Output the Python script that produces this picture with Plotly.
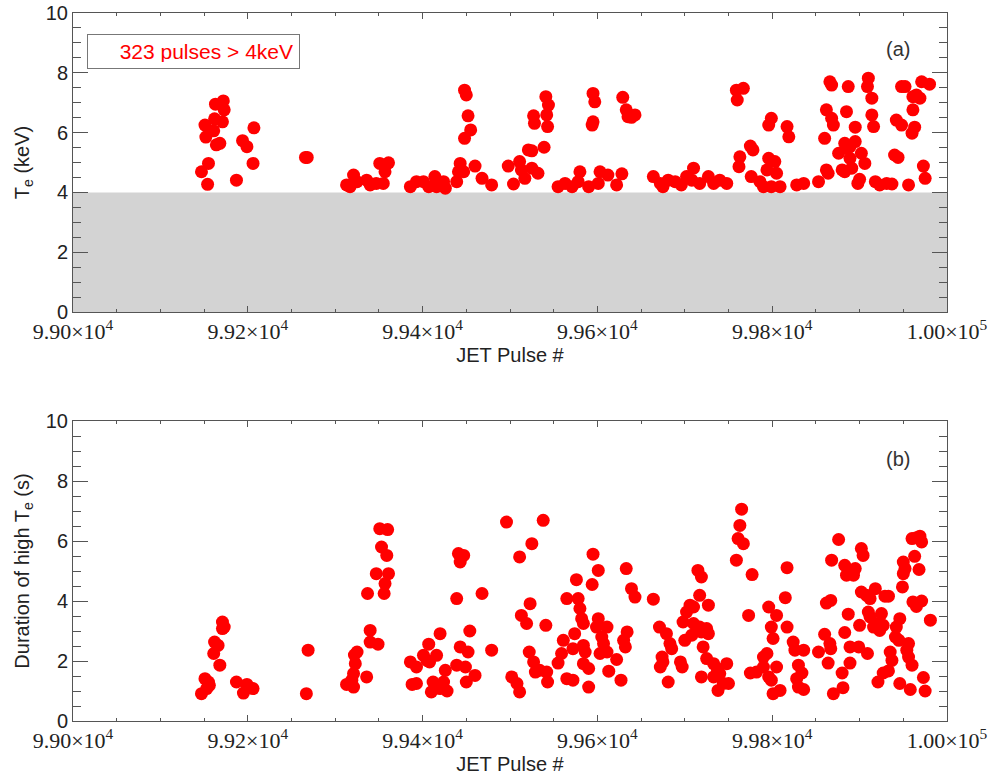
import plotly.graph_objects as go

# ---------------- data ----------------
pulse_a = [99147, 99154, 99155, 99152, 99151, 99161, 99162, 99164, 99168, 99163, 99172, 99173, 99171,
           99187, 99194, 99199, 99206, 99207, 99266, 99268,
           99313, 99321, 99325, 99317, 99336, 99340, 99351, 99361, 99357, 99355, 99347,
           99386, 99393, 99401, 99407, 99414, 99416, 99424, 99426, 99439, 99441, 99443, 99447,
           99448, 99455, 99452, 99448, 99450, 99460, 99468, 99479,
           99498, 99504, 99511, 99513, 99517, 99521, 99525, 99525, 99532, 99527, 99528,
           99541, 99544, 99542, 99543, 99539, 99555, 99563, 99571, 99580, 99578, 99590,
           99595, 99597, 99595, 99594, 99603, 99601, 99612, 99622, 99628,
           99629, 99633, 99639, 99643, 99635, 99664, 99672, 99675, 99681, 99689, 99696,
           99702, 99710, 99708, 99717, 99727, 99733, 99740, 99748,
           99759, 99767, 99760, 99763, 99762, 99775, 99778, 99776, 99786, 99790,
           99796, 99803, 99794, 99799, 99796, 99805, 99799, 99809, 99817, 99819,
           99828, 99836, 99853, 99862, 99864, 99860, 99862, 99868, 99870, 99866, 99868,
           99876, 99880, 99883, 99883, 99889, 99895, 99885, 99887, 99885, 99889, 99891, 99895,
           99902, 99906, 99898, 99900, 99910, 99909, 99914, 99914, 99916,
           99918, 99923, 99931, 99937, 99940, 99944, 99942, 99948, 99948, 99952, 99956,
           99960, 99963, 99961, 99961, 99965, 99969, 99971, 99980, 99973, 99975]
te_a = [4.69, 4.27, 4.97, 5.85, 6.25, 6.06, 6.46, 5.59, 5.64, 6.95, 7.06, 6.76, 6.36,
        4.41, 5.73, 5.53, 4.97, 6.16, 5.17, 5.17,
        4.25, 4.58, 4.36, 4.19, 4.41, 4.25, 4.97, 4.99, 4.69, 4.30, 4.30,
        4.19, 4.36, 4.36, 4.19, 4.53, 4.19, 4.36, 4.14, 4.36, 4.69, 4.97, 4.69,
        5.81, 6.09, 6.56, 7.42, 7.26, 4.88, 4.47, 4.25,
        4.88, 4.28, 5.03, 4.75, 4.47, 5.42, 5.39, 4.81, 4.64, 6.56, 6.31,
        7.20, 6.92, 6.59, 6.20, 5.51, 4.19, 4.30, 4.19, 4.69, 4.36, 4.19,
        7.31, 7.03, 6.36, 6.25, 4.69, 4.30, 4.58, 4.25, 4.62,
        7.18, 6.76, 6.51, 6.59, 6.53, 4.53, 4.30, 4.19, 4.41, 4.36, 4.25,
        4.53, 4.81, 4.41, 4.30, 4.53, 4.30, 4.41, 4.30,
        7.42, 7.48, 7.09, 5.19, 4.86, 5.55, 5.42, 4.53, 4.36, 4.19,
        5.14, 5.03, 4.75, 6.48, 6.25, 4.64, 4.19, 4.19, 6.20, 5.86,
        4.25, 4.30, 4.36, 4.75, 4.64, 5.81, 6.76, 6.48, 6.25, 7.70, 7.59,
        5.31, 4.75, 4.69, 5.64, 5.53, 5.70, 5.48, 7.54, 6.70, 5.14, 4.81, 6.18,
        5.31, 4.97, 4.30, 4.44, 7.82, 7.54, 7.15, 6.59, 6.20,
        4.36, 4.25, 4.30, 4.28, 5.25, 5.17, 6.42, 6.25, 7.54, 7.54, 4.25,
        5.98, 6.18, 6.76, 7.20, 7.26, 7.15, 7.70, 7.62, 4.88, 4.47]

pulse_b = [99147, 99153, 99155, 99151, 99156, 99161, 99162, 99166, 99168, 99171, 99173, 99171,
           99187, 99195, 99199, 99206, 99267, 99269,
           99313, 99321, 99319, 99321, 99323, 99325, 99322, 99336, 99337, 99340, 99340, 99349,
           99347, 99351, 99360, 99353, 99359, 99361, 99357, 99356,
           99386, 99393, 99388, 99393, 99401, 99405, 99408, 99416, 99407, 99420, 99412, 99410,
           99424, 99428, 99420, 99426, 99439, 99441, 99447, 99443, 99443, 99452, 99439, 99449,
           99450, 99460, 99454, 99468, 99479, 99496,
           99502, 99508, 99511, 99511, 99525, 99538, 99513, 99519, 99523, 99522, 99527, 99529,
           99534, 99542, 99543, 99541, 99555, 99561, 99559, 99565, 99565, 99572, 99574, 99576,
           99578, 99580, 99582, 99584, 99572, 99584, 99586, 99584, 99590, 99590, 99594, 99595,
           99601, 99601, 99599, 99605, 99607, 99611, 99603, 99611, 99613, 99622, 99627, 99630,
           99632, 99634, 99633, 99639, 99643, 99664, 99671, 99679, 99683, 99685, 99674, 99672,
           99675, 99681, 99695, 99697, 99698, 99702, 99706, 99710, 99700, 99708, 99715, 99719,
           99717, 99710, 99717, 99727, 99719, 99725, 99727, 99721, 99725, 99733, 99737, 99719,
           99733, 99740, 99738, 99744, 99750, 99748, 99759, 99761, 99763, 99767, 99765, 99777,
           99773, 99775, 99782, 99790, 99794, 99790, 99796, 99796, 99805, 99799, 99801, 99805,
           99799, 99801, 99809, 99817, 99815, 99817, 99824, 99826, 99830, 99828, 99830,
           99836, 99834, 99836, 99853, 99860, 99866, 99867, 99864, 99862, 99867, 99868, 99876,
           99870, 99880, 99881, 99883, 99885, 99893, 99895, 99887, 99883, 99889, 99899, 99889,
           99902, 99904, 99902, 99908, 99912, 99918, 99900, 99909, 99910, 99916, 99912, 99920,
           99923, 99927, 99925, 99929, 99933, 99935, 99937, 99927, 99933, 99921, 99942, 99946,
           99941, 99945, 99949, 99946, 99950, 99952, 99950, 99956, 99954, 99956, 99960, 99958,
           99960, 99965, 99969, 99971, 99963, 99968, 99961, 99965, 99971, 99973, 99975, 99981]
dur_b = [0.91, 1.08, 1.30, 1.41, 1.19, 2.25, 2.63, 2.52, 1.86, 3.30, 3.13, 3.08,
         1.30, 0.93, 1.22, 1.08, 0.91, 2.36,
         1.22, 1.13, 1.36, 1.58, 1.91, 2.30, 2.20, 1.47, 4.25, 3.02, 2.63, 2.56,
         4.91, 6.41, 6.38, 5.80, 5.52, 4.91, 4.58, 4.25,
         1.97, 1.80, 1.22, 1.25, 2.19, 2.02, 1.97, 2.19, 2.56, 2.91, 1.30, 0.97,
         1.30, 1.00, 1.08, 1.69, 4.08, 5.58, 5.52, 5.30, 2.47, 2.30, 1.86, 1.80,
         1.30, 1.52, 3.00, 4.25, 2.36, 6.63,
         1.47, 1.25, 0.97, 5.47, 5.91, 6.69, 3.52, 3.25, 3.91, 2.30, 1.97, 1.63,
         1.69, 1.63, 1.30, 3.19, 1.93, 2.69, 2.25, 4.08, 1.41, 1.36, 2.91, 4.71,
         4.08, 3.75, 3.41, 3.25, 2.41, 2.52, 2.30, 1.91, 1.75, 1.13, 4.55, 5.56,
         5.02, 3.41, 3.13, 2.80, 2.58, 3.13, 2.25, 2.30, 1.66, 2.05, 1.36, 2.69,
         2.47, 2.97, 5.08, 4.41, 4.13, 4.06, 3.13, 2.91, 2.58, 2.41, 2.13, 1.80,
         1.97, 1.30, 1.97, 1.80, 3.30, 3.63, 3.86, 3.80, 2.69, 2.86, 5.02, 4.80,
         4.19, 3.25, 3.13, 3.86, 2.97, 3.08, 2.91, 2.47, 2.08, 1.91, 1.75, 1.47,
         1.47, 1.58, 1.02, 1.25, 1.25, 1.91, 5.36, 6.08, 6.52, 5.91, 7.06, 4.88,
         3.52, 1.60, 1.63, 2.13, 2.25, 1.80, 1.47, 3.80, 3.52, 3.13, 2.75, 1.80,
         1.36, 0.91, 1.02, 5.11, 4.11, 3.13, 2.63, 2.36, 1.86, 1.41, 1.13,
         2.36, 1.60, 1.05, 2.30, 2.89, 2.58, 2.41, 1.93, 3.93, 4.02, 5.36, 6.05,
         0.91, 1.60, 1.11, 5.19, 4.86, 4.86, 5.08, 3.56, 2.95, 2.47, 2.47, 1.93,
         5.75, 5.52, 4.30, 4.19, 4.08, 4.41, 3.19, 2.25, 3.63, 3.13, 3.47, 3.25,
         3.02, 3.19, 3.58, 4.16, 4.16, 2.30, 2.02, 1.60, 1.67, 1.30, 3.13, 3.41,
         2.80, 2.69, 4.47, 1.25, 5.30, 5.08, 4.91, 2.58, 2.36, 2.13, 1.86, 1.05,
         6.08, 6.11, 6.16, 5.97, 5.49, 5.05, 3.97, 3.82, 4.00, 1.45, 1.00, 3.36]

x_range = [99000, 100000]
x_tick_vals = [99000, 99200, 99400, 99600, 99800, 100000]
x_tick_text = ["9.90×10<sup>4</sup>", "9.92×10<sup>4</sup>", "9.94×10<sup>4</sup>",
               "9.96×10<sup>4</sup>", "9.98×10<sup>4</sup>", "1.00×10<sup>5</sup>"]
y_range = [0, 10]
te_threshold = 4
legend_text = "323 pulses > 4keV"

# ---------------- figure ----------------
RED = "#ff0000"
AXC = "#555555"
SANS = "Liberation Sans"

fig = go.Figure()
fig.add_trace(go.Scatter(x=pulse_a, y=te_a, mode="markers", xaxis="x", yaxis="y",
                         marker=dict(color=RED, size=13, line=dict(width=0)), showlegend=False))
fig.add_trace(go.Scatter(x=pulse_b, y=dur_b, mode="markers", xaxis="x2", yaxis="y2",
                         marker=dict(color=RED, size=13, line=dict(width=0)), showlegend=False))

fig.add_shape(type="rect", xref="x", yref="y", x0=x_range[0], x1=x_range[1], y0=0, y1=te_threshold,
              fillcolor="#d3d3d3", line=dict(width=0), layer="below")

def xaxis(anchor):
    return dict(range=x_range, anchor=anchor, tickmode="array", tickvals=x_tick_vals, ticktext=x_tick_text,
                ticks="inside", ticklen=6, tickwidth=1, tickcolor=AXC,
                minor=dict(ticks="inside", ticklen=3, dtick=50, tick0=99000, tickcolor=AXC),
                showline=True, linecolor=AXC, linewidth=1, mirror="ticks",
                showgrid=False, zeroline=False, automargin=False,
                tickfont=dict(family="Liberation Serif", size=22, color="#222"),
                title=dict(text="JET Pulse #", font=dict(family=SANS, size=20, color="#222"),
                           standoff=4))

def yaxis(anchor, domain, title):
    return dict(range=y_range, anchor=anchor, domain=domain, tickvals=[0, 2, 4, 6, 8, 10],
                ticks="inside", ticklen=15, tickwidth=1, tickcolor=AXC,
                minor=dict(ticks="inside", ticklen=8, dtick=0.5, tickcolor=AXC),
                showline=True, linecolor=AXC, linewidth=1, mirror="ticks",
                showgrid=False, zeroline=False, automargin=False,
                tickfont=dict(family=SANS, size=20, color="#222"),
                title=dict(text=title, font=dict(family=SANS, size=20, color="#222"),
                           standoff=10))

fig.update_layout(
    width=990, height=778,
    margin=dict(l=73, r=43, t=13, b=57),
    paper_bgcolor="white", plot_bgcolor="white",
    xaxis=xaxis("y"),
    yaxis=yaxis("x", [0.5777, 1.0], "T<sub>e</sub> (keV)"),
    xaxis2=xaxis("y2"),
    yaxis2=yaxis("x2", [0.0, 0.4237], "Duration of high T<sub>e</sub> (s)"),
)

fig.add_annotation(xref="paper", yref="paper", x=(87 - 73) / 874, y=1 - (34 - 13) / 708,
                   xanchor="left", yanchor="top", text=legend_text, showarrow=False,
                   font=dict(family=SANS, size=21, color=RED),
                   width=199, height=21, align="right", valign="middle",
                   bordercolor="#777", borderwidth=1, borderpad=6, bgcolor="white")
fig.add_annotation(xref="paper", yref="paper", x=(912 - 73) / 874, y=1 - (49 - 13) / 708,
                   xanchor="right", yanchor="middle", text="(a)", showarrow=False,
                   font=dict(family=SANS, size=20, color="#333"))
fig.add_annotation(xref="paper", yref="paper", x=(912 - 73) / 874, y=(721 - 459) / 708,
                   xanchor="right", yanchor="middle", text="(b)", showarrow=False,
                   font=dict(family=SANS, size=20, color="#333"))

fig.write_html("out.html")
